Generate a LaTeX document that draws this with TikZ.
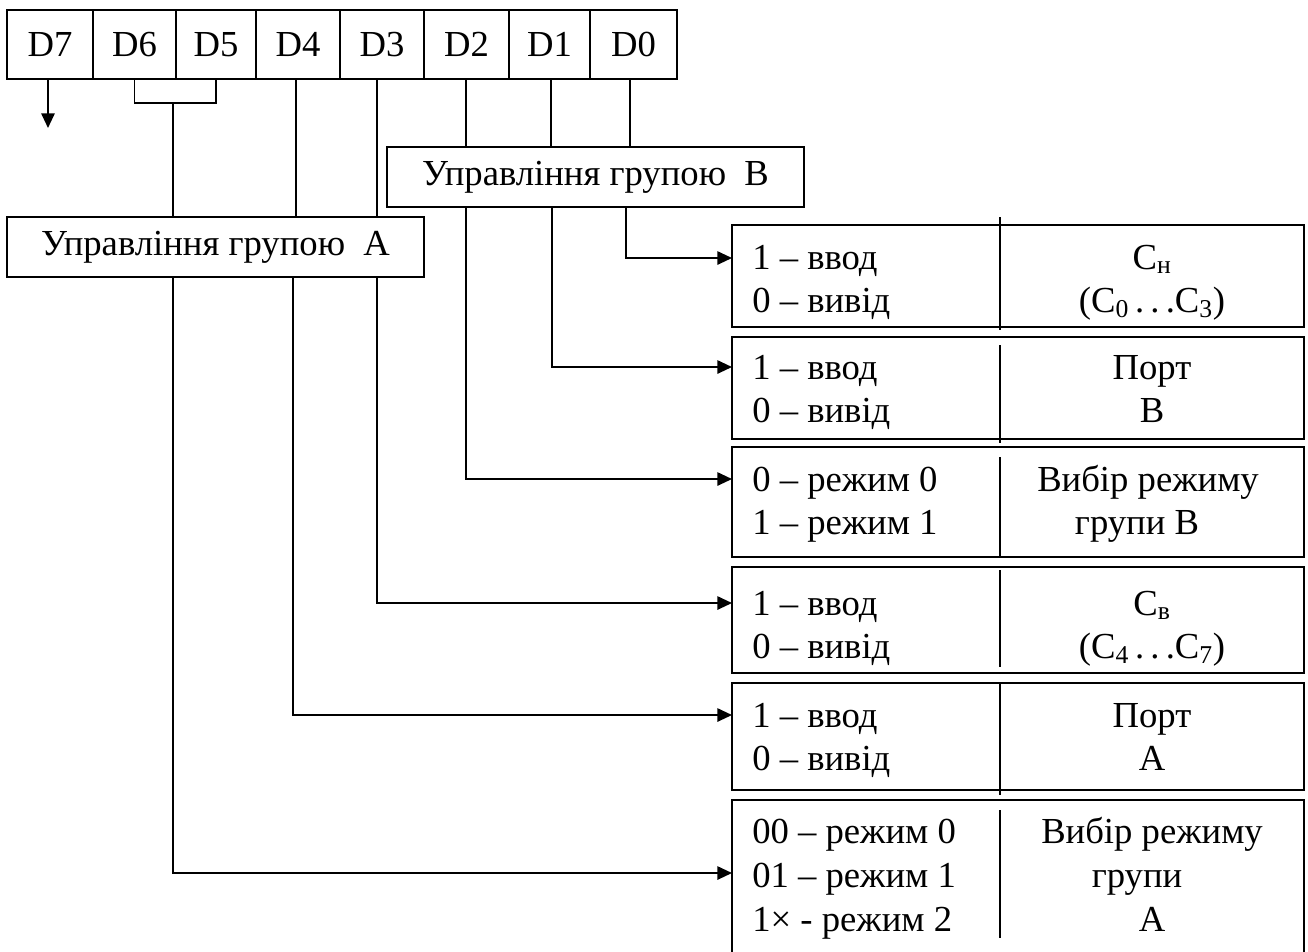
\documentclass[tikz,border=0pt]{standalone}
\usepackage{fontspec}
\setmainfont{Liberation Serif}
\usetikzlibrary{arrows.meta}
\begin{document}
\begin{tikzpicture}[x=0.75pt,y=-0.75pt,
  every node/.style={font=\fontsize{27.5}{33}\selectfont},
  cell/.style={draw, line width=1.4pt, inner sep=0pt, outer sep=0pt, minimum height=51.75pt},
  grp/.style={draw, line width=1.4pt, inner sep=0pt, outer sep=0pt, minimum width=312.75pt, minimum height=45pt},
  box/.style={draw, line width=1.4pt, inner sep=0pt, outer sep=0pt, minimum width=429pt},
  ln/.style={line width=1.4pt},
  arr/.style={line width=1.4pt, -{Triangle[length=11pt,width=10pt]}},
  txt/.style={inner sep=0pt, anchor=base west},
  ctxt/.style={inner sep=0pt, anchor=base},
]
\path[use as bounding box, clip] (0,0) rectangle (1308,951);
\fill[white] (0,0) rectangle (1308,951);

% register
\node[cell, minimum width=64.5pt]  (d7) at (50,44.5)    {D7};
\node[cell, minimum width=62.25pt] (d6) at (134.5,44.5) {D6};
\node[cell, minimum width=60pt]    (d5) at (216,44.5)   {D5};
\node[cell, minimum width=63pt]    (d4) at (298,44.5)   {D4};
\node[cell, minimum width=63pt]    (d3) at (382,44.5)   {D3};
\node[cell, minimum width=63.75pt] (d2) at (466.5,44.5) {D2};
\node[cell, minimum width=60.75pt] (d1) at (549.5,44.5) {D1};
\node[cell, minimum width=65.25pt] (d0) at (633.5,44.5) {D0};

% group boxes
\node[grp] (ga) at (215.5,247) {Управління групою~ A};
\node[grp] (gb) at (595.5,177) {Управління групою~ B};

% right boxes
\node[box, minimum height=76.5pt]  (b1) at (1018,276)   {};
\node[box, minimum height=76.5pt]  (b2) at (1018,388)   {};
\node[box, minimum height=82.5pt]  (b3) at (1018,502)   {};
\node[box, minimum height=79.5pt]  (b4) at (1018,620)   {};
\node[box, minimum height=80.25pt] (b5) at (1018,736.5) {};
\node[box, minimum height=114.75pt] (b6) at (1018,876.5) {};

% dividers
\draw[ln] (1000,217) -- (1000,330);
\draw[ln] (1000,345) -- (1000,443);
\draw[ln] (1000,457) -- (1000,558);
\draw[ln] (1000,570) -- (1000,667);
\draw[ln] (1000,682) -- (1000,795);
\draw[ln] (1000,810) -- (1000,938);

% D7
\coordinate (d7top) at (d7.south -| 48,0);
\coordinate (d7end) at (48,128);
\draw[arr] (d7top) -- (d7end);

% D6 D5 bracket
\coordinate (br6) at (d6.south |- 0,103);
\coordinate (br5) at (d5.south |- 0,103);
\coordinate (brm) at (173,103);
\draw[ln] (d6.south) -- (br6) -- (br5) -- (d5.south);
\draw[ln] (brm) -- (brm |- ga.north);
\draw[arr] (ga.south -| brm) |- (b6.west |- 0,873);

% D4
\draw[ln] (d4.south -| 296,0) -- (ga.north -| 296,0);
\draw[arr] (ga.south -| 293,0) |- (b5.west |- 0,715);

% D3
\draw[ln] (d3.south -| 377,0) -- (ga.north -| 377,0);
\draw[arr] (ga.south -| 377,0) |- (b4.west |- 0,603);

% D2
\draw[ln] (d2.south -| 466,0) -- (gb.north -| 466,0);
\draw[arr] (gb.south -| 466,0) |- (b3.west |- 0,479);

% D1
\draw[ln] (d1.south -| 551,0) -- (gb.north -| 551,0);
\draw[arr] (gb.south -| 552,0) |- (b2.west |- 0,367);

% D0
\draw[ln] (d0.south -| 630,0) -- (gb.north -| 630,0);
\draw[arr] (gb.south -| 626,0) |- (b1.west |- 0,258);

% texts box 1
\node[txt]  (t1a) at (752,269) {1 – ввод};
\node[txt]  (t1b) at (752,312) {0 – вивід};
\node[ctxt] (r1a) at (1152,269) {C\textsubscript{н}};
\node[ctxt] (r1b) at (1152,312) {(C\textsubscript{0}\,.\,.\,.C\textsubscript{3})};
% box 2
\node[txt]  (t2a) at (752,379) {1 – ввод};
\node[txt]  (t2b) at (752,422) {0 – вивід};
\node[ctxt] (r2a) at (1152,379) {Порт};
\node[ctxt] (r2b) at (1152,422) {B};
% box 3
\node[txt]  (t3a) at (752,491) {0 – режим 0};
\node[txt]  (t3b) at (752,534) {1 – режим 1};
\node[ctxt] (r3a) at (1148,491) {Вибір режиму};
\node[ctxt] (r3b) at (1137,534) {групи B};
% box 4
\node[txt]  (t4a) at (752,615) {1 – ввод};
\node[txt]  (t4b) at (752,658) {0 – вивід};
\node[ctxt] (r4a) at (1152,615) {C\textsubscript{в}};
\node[ctxt] (r4b) at (1152,658) {(C\textsubscript{4}\,.\,.\,.C\textsubscript{7})};
% box 5
\node[txt]  (t5a) at (752,727) {1 – ввод};
\node[txt]  (t5b) at (752,770) {0 – вивід};
\node[ctxt] (r5a) at (1152,727) {Порт};
\node[ctxt] (r5b) at (1152,770) {A};
% box 6
\node[txt]  (t6a) at (752,843) {00 – режим 0};
\node[txt]  (t6b) at (752,887) {01 – режим 1};
\node[txt]  (t6c) at (752,931) {1× - режим 2};
\node[ctxt] (r6a) at (1152,843) {Вибір режиму};
\node[ctxt] (r6b) at (1137,887) {групи};
\node[ctxt] (r6c) at (1152,931) {A};
\end{tikzpicture}
\end{document}
